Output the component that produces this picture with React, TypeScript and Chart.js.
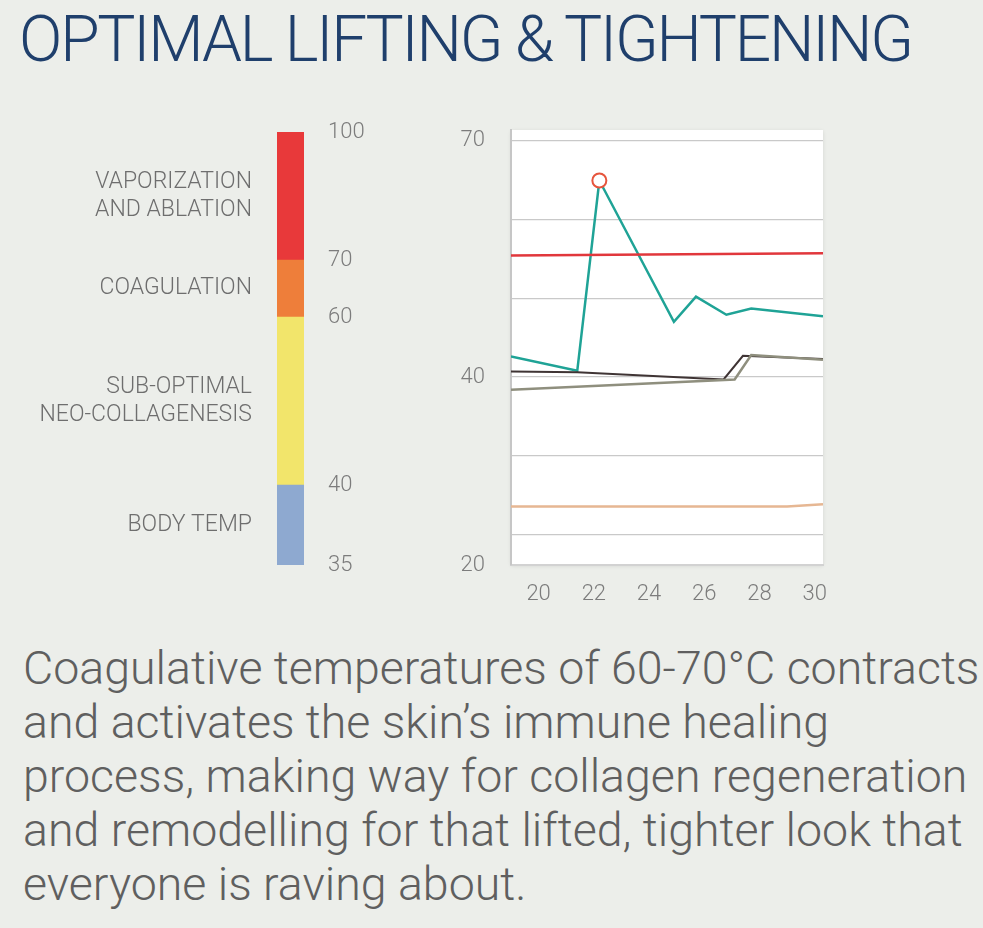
import React, { useEffect, useRef } from 'react';
import { Chart, registerables, LinearScale } from 'chart.js';

Chart.register(...registerables);

// ---------- Colour bar (temperature bands, °C) ----------
const BAND_EDGES = [35, 40, 60, 70, 100];
const BAND_NAMES: string[][] = [
  ['BODY TEMP'],
  ['SUB-OPTIMAL', 'NEO-COLLAGENESIS'],
  ['COAGULATION'],
  ['VAPORIZATION', 'AND ABLATION'],
];
const BAND_COLORS = ['#8ea9d0', '#f2e56b', '#ee7e3a', '#e8393a'];
const BAND_TICKS = [35, 40, 60, 70, 100];

// ---------- Line chart ----------
const X_TICKS = [20, 22, 24, 26, 28, 30];
const X_MIN = 19;
const X_MAX = 30.3;
const Y_MIN = 16.2;
const Y_MAX = 71.3;
const Y_GRID = [20, 30, 40, 50, 60, 70];
const Y_LABELS: Record<number, string> = { 70: '70', 40: '40' };
const Y_BOTTOM_LABEL = '20';

const SERIES_TEAL = [[19, 42.6], [21.4, 40.8], [22.2, 64.9], [24.9, 47.0], [25.7, 50.2], [26.8, 47.9], [27.7, 48.7], [30.3, 47.7]];
const SERIES_RED = [[19, 55.4], [30.3, 55.7]];
const SERIES_DARK = [[19, 40.7], [21.4, 40.6], [26.7, 39.7], [27.4, 42.7], [30.3, 42.3]];
const SERIES_GRAY = [[19, 38.4], [27.1, 39.7], [27.7, 42.8], [30.3, 42.2]];
const SERIES_TAN = [[19, 23.6], [29.0, 23.6], [30.3, 23.9]];

// visual weight of each band on the colour bar (the source bar is not linear)
const BAND_WEIGHTS = [80, 168, 57, 128];

const FONT = 'Roboto, "Liberation Sans", Arial, sans-serif';
const TICK_COLOR = '#7c7c7c';

function bandDecimal(v: number): number {
  const total = BAND_WEIGHTS.reduce((a, b) => a + b, 0);
  let acc = 0;
  const n = BAND_WEIGHTS.length;
  for (let i = 0; i < n; i++) {
    const lo = BAND_EDGES[i];
    const hi = BAND_EDGES[i + 1];
    if (v <= hi || i === n - 1) {
      return (acc + ((v - lo) / (hi - lo)) * BAND_WEIGHTS[i]) / total;
    }
    acc += BAND_WEIGHTS[i];
  }
  return 1;
}

function bandValue(dec: number): number {
  const total = BAND_WEIGHTS.reduce((a, b) => a + b, 0);
  let acc = 0;
  const n = BAND_WEIGHTS.length;
  for (let i = 0; i < n; i++) {
    const w = BAND_WEIGHTS[i] / total;
    if (dec <= acc + w || i === n - 1) {
      const f = (dec - acc) / w;
      return BAND_EDGES[i] + f * (BAND_EDGES[i + 1] - BAND_EDGES[i]);
    }
    acc += w;
  }
  return BAND_EDGES[n];
}

class BandScale extends (LinearScale as any) {
  static id = 'band';
  static defaults = {};
  getPixelForValue(value: any) {
    if (value === null || value === undefined || isNaN(value)) return NaN;
    return (this as any).getPixelForDecimal(bandDecimal(+value));
  }
  getValueForPixel(pixel: number) {
    return bandValue((this as any).getDecimalForPixel(pixel));
  }
}
Chart.register(BandScale as any);

const noPad = (s: any) => {
  s.paddingTop = 0;
  s.paddingBottom = 0;
  s.paddingLeft = 0;
  s.paddingRight = 0;
};

const plotBg = {
  id: 'plotBg',
  beforeDraw(chart: any) {
    const { ctx, chartArea: a } = chart;
    ctx.save();
    ctx.shadowColor = 'rgba(0,0,0,0.10)';
    ctx.shadowBlur = 4;
    ctx.shadowOffsetY = 1;
    ctx.fillStyle = '#ffffff';
    ctx.fillRect(a.left, a.top, a.right - a.left, a.bottom - a.top);
    ctx.restore();
  },
};

const pts = (s: number[][]) => s.map(([x, y]) => ({ x, y }));

export default function App() {
  const barRef = useRef<HTMLCanvasElement>(null);
  const lineRef = useRef<HTMLCanvasElement>(null);

  useEffect(() => {
    document.body.style.margin = '0';
    const tickFont = { family: FONT, size: 22, weight: '300' as any };

    const bar = new Chart(barRef.current!, {
      type: 'bar',
      data: {
        labels: ['band'],
        datasets: BAND_COLORS.map((c, i) => ({
          label: BAND_NAMES[i].join(' '),
          data: [[BAND_EDGES[i], BAND_EDGES[i + 1]]] as any,
          backgroundColor: c,
          borderWidth: 0,
          grouped: false,
          barPercentage: 1,
          categoryPercentage: 1,
          yAxisID: 'y',
        })) as any,
      },
      options: {
        animation: false,
        responsive: false,
        plugins: { legend: { display: false }, tooltip: { enabled: false } },
        layout: { padding: { top: 12, bottom: 15, left: 0, right: 0 } },
        scales: {
          x: { display: false },
          y: {
            type: 'band' as any,
            position: 'right',
            min: 35,
            max: 100,
            grid: { display: false, drawTicks: false },
            border: { display: false },
            afterBuildTicks: (s: any) => { s.ticks = BAND_TICKS.map((v) => ({ value: v })); },
            afterFit: (s: any) => { s.width = 96; noPad(s); },
            ticks: { color: TICK_COLOR, font: tickFont, padding: 24, autoSkip: false, callback: (v: any) => String(v) },
          },
          yl: {
            type: 'band' as any,
            position: 'left',
            min: 35,
            max: 100,
            grid: { display: false, drawTicks: false },
            border: { display: false },
            afterBuildTicks: (s: any) => {
              s.ticks = BAND_NAMES.map((_, i) => ({ value: (BAND_EDGES[i] + BAND_EDGES[i + 1]) / 2 }));
            },
            afterFit: (s: any) => { s.width = 277; noPad(s); },
            ticks: {
              color: '#6e6e6e',
              font: { family: FONT, size: 23, weight: '300' as any, lineHeight: 1.22 },
              padding: 25,
              autoSkip: false,
              callback: (_v: any, i: number) => BAND_NAMES[i],
            },
          },
        } as any,
      },
    });

    const peakIndex = SERIES_TEAL.reduce((m, p, i, a) => (p[1] > a[m][1] ? i : m), 0);

    const line = new Chart(lineRef.current!, {
      type: 'line',
      data: {
        datasets: [
          { label: 'Tan', data: pts(SERIES_TAN), borderColor: '#e6b793', borderWidth: 2.5, pointRadius: 0 },
          { label: 'Gray', data: pts(SERIES_GRAY), borderColor: '#8f8f7e', borderWidth: 2.5, pointRadius: 0 },
          { label: 'Dark', data: pts(SERIES_DARK), borderColor: '#3f3434', borderWidth: 2, pointRadius: 0 },
          { label: 'Red', data: pts(SERIES_RED), borderColor: '#e1373c', borderWidth: 2.5, pointRadius: 0 },
          {
            label: 'Teal',
            data: pts(SERIES_TEAL),
            borderColor: '#1fa396',
            borderWidth: 2.5,
            pointRadius: (ctx: any) => (ctx.dataIndex === peakIndex ? 7 : 0),
            pointBorderColor: '#e6553d',
            pointBackgroundColor: '#ffffff',
            pointBorderWidth: 2,
          },
        ] as any,
      },
      options: {
        animation: false,
        responsive: false,
        plugins: { legend: { display: false }, tooltip: { enabled: false } },
        layout: { padding: { top: 20, right: 37, bottom: 18, left: 0 } },
        scales: {
          x: {
            type: 'linear',
            min: X_MIN,
            max: X_MAX,
            grid: { display: false, drawTicks: false },
            border: { color: '#d2d2d2', width: 2 },
            afterBuildTicks: (s: any) => { s.ticks = X_TICKS.map((v) => ({ value: v })); },
            afterFit: (s: any) => { s.height = 47; noPad(s); },
            ticks: { color: TICK_COLOR, font: tickFont, padding: 16, maxRotation: 0, autoSkip: false },
          },
          y: {
            type: 'linear',
            min: Y_MIN,
            max: Y_MAX,
            grid: {
              drawTicks: false,
              color: (ctx: any) => (ctx.tick && ctx.tick.value === Y_MIN ? 'rgba(0,0,0,0)' : '#c9c9c9'),
              lineWidth: 1.3,
            },
            border: { color: '#c6c6c6', width: 2 },
            afterBuildTicks: (s: any) => { s.ticks = [Y_MIN, ...Y_GRID].map((v) => ({ value: v })); },
            afterFit: (s: any) => { s.width = 91; noPad(s); },
            ticks: {
              color: TICK_COLOR,
              font: tickFont,
              padding: 26,
              autoSkip: false,
              callback: (v: any) => (v === Y_MIN ? Y_BOTTOM_LABEL : Y_LABELS[v] ?? ''),
            },
          },
        },
      },
      plugins: [plotBg],
    });

    return () => {
      bar.destroy();
      line.destroy();
    };
  }, []);

  return (
    <div style={{ position: 'relative', width: 983, height: 928, background: '#eceeea', overflow: 'hidden' }}>
      <div
        style={{
          position: 'absolute',
          left: 19,
          top: 8,
          fontFamily: FONT,
          fontWeight: 300,
          fontSize: 64,
          lineHeight: '64px',
          letterSpacing: '-2.2px',
          color: '#1f3f6c',
          whiteSpace: 'nowrap',
        }}
      >
        OPTIMAL LIFTING &amp; TIGHTENING
      </div>
      <canvas ref={barRef} width={400} height={460} style={{ position: 'absolute', left: 0, top: 120 }} />
      <canvas ref={lineRef} width={440} height={520} style={{ position: 'absolute', left: 420, top: 110 }} />
      <div
        style={{
          position: 'absolute',
          left: 23,
          top: 641,
          fontFamily: FONT,
          fontWeight: 300,
          fontSize: 46.5,
          lineHeight: '54px',
          color: '#5f5f5f',
          whiteSpace: 'nowrap',
        }}
      >
        Coagulative temperatures of 60-70°C contracts
        <br />
        and activates the skin’s immune healing
        <br />
        process, making way for collagen regeneration
        <br />
        and remodelling for that lifted, tighter look that
        <br />
        everyone is raving about.
      </div>
    </div>
  );
}
